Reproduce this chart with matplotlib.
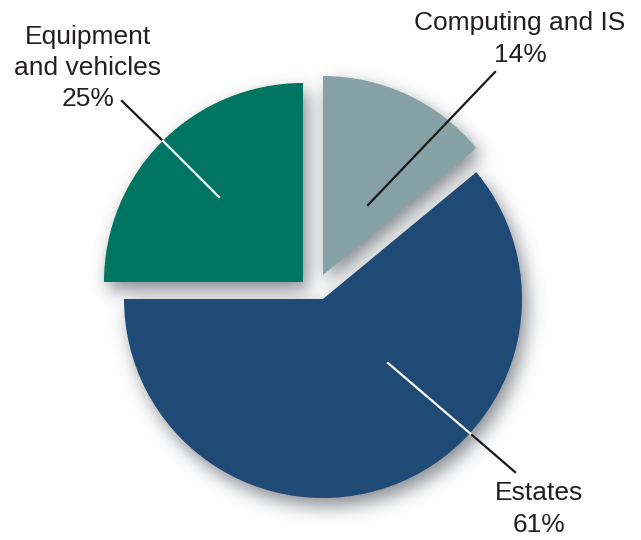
import numpy as np
import matplotlib
matplotlib.use("Agg")
import matplotlib.pyplot as plt

plt.rcParams['font.family'] = ['Liberation Sans', 'DejaVu Sans']

# data (clockwise from 12 o'clock)
labels = ["Computing and IS", "Estates", "Equipment\nand vehicles"]
shares = [14, 61, 25]
colors = ["#86a2a6", "#1f4a76", "#007561"]

W, H = 641, 540
fig = plt.figure(figsize=(W / 100, H / 100), dpi=100)
ax = fig.add_axes([0, 0, 1, 1])

cx, cy, R = 313, 250, 199
wedges, _ = ax.pie(shares, colors=colors, startangle=90, counterclock=False,
                   center=(cx, cy), radius=R, frame=True,
                   wedgeprops=dict(linewidth=0, zorder=3))
ax.set_xlim(0, W)
ax.set_ylim(0, H)
ax.set_aspect('equal')
ax.axis('off')

# pull slices apart a little
shifts = [(10, 15), (10, -9), (-10, 8)]
for w, (dx, dy) in zip(wedges, shifts):
    w.set_center((cx + dx, cy + dy))

# soft drop shadow behind the slices
xs = np.arange(W) + 0.5
ys = np.arange(H) + 0.5
gx, gy = np.meshgrid(xs, ys)
pts = np.column_stack([gx.ravel(), gy.ravel()])
mask = np.zeros(len(pts), bool)
off = np.array([5, -8])
for w in wedges:
    mask |= w.get_path().contains_points(pts - off)
mask = mask.reshape(H, W).astype(float)
sig = 9
k = np.arange(-3 * sig, 3 * sig + 1)
kern = np.exp(-k**2 / (2 * sig**2))
kern /= kern.sum()
blur = np.apply_along_axis(lambda r: np.convolve(r, kern, mode='same'), 1, mask)
blur = np.apply_along_axis(lambda c: np.convolve(c, kern, mode='same'), 0, blur)
shadow = np.zeros((H, W, 4))
shadow[..., 0] = 0.22
shadow[..., 1] = 0.24
shadow[..., 2] = 0.28
shadow[..., 3] = 0.6 * blur
ax.imshow(shadow, extent=(0, W, 0, H), origin='lower', zorder=1, interpolation='bilinear')
ax.set_xlim(0, W)
ax.set_ylim(0, H)


def px(x, y):
    return x, H - y


txt = dict(fontsize=19, color="#231f20", ha='center', va='center', linespacing=1.38, zorder=5)

# leader lines (black outside, white inside slices)
ax.plot(*zip(px(122, 101), px(163, 141)), color='#1a1a1a', lw=1.6, zorder=4)
ax.plot(*zip(px(163, 141), px(219, 197)), color='white', lw=1.6, zorder=4)
ax.plot(*zip(px(368, 205), px(495, 72)), color='#1a1a1a', lw=1.6, zorder=4)
ax.plot(*zip(px(388, 363), px(472, 435)), color='white', lw=1.6, zorder=4)
ax.plot(*zip(px(472, 435), px(515, 472)), color='#1a1a1a', lw=1.6, zorder=4)

ax.text(*px(88, 68), f"{labels[2]}\n{shares[2]}%", **txt)
ax.text(*px(520, 39), f"{labels[0]}\n{shares[0]}%", **txt)
ax.text(*px(539, 509), f"{labels[1]}\n{shares[1]}%", **txt)

fig.savefig("out.png", dpi=100, facecolor='white')
